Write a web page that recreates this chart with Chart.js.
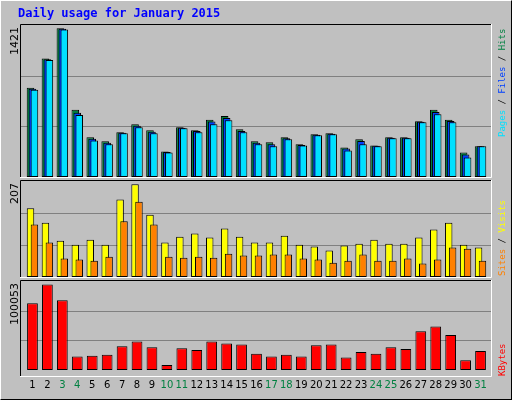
<!DOCTYPE html>
<html><head><meta charset="utf-8">
<script src="https://cdn.jsdelivr.net/npm/chart.js@4"></script>
<style>
html,body{margin:0;padding:0;background:#c0c0c0;}
canvas{position:absolute;left:0;top:0;}
</style></head><body>
<div style="position:absolute;left:0;top:0;width:510px;height:398px;background:#c0c0c0;border-top:1px solid #fff;border-left:1px solid #fff;border-right:1px solid #000;border-bottom:1px solid #000;"></div>
<canvas id="c1" width="512" height="400"></canvas>
<canvas id="c2" width="512" height="400"></canvas>
<canvas id="c3" width="512" height="400"></canvas>
<script>
const days = ['1','2','3','4','5','6','7','8','9','10','11','12','13','14','15','16','17','18','19','20','21','22','23','24','25','26','27','28','29','30','31'];
const weekend = ['3','4','10','11','17','18','24','25','31'];
const hits  = [852,1132,1421,643,379,341,428,505,447,244,476,447,547,582,457,341,331,379,312,408,418,283,360,302,379,379,534,643,547,235,293];
const files = [843,1126,1416,614,365,327,423,490,432,240,471,440,530,565,440,327,312,370,307,404,413,272,345,298,375,375,529,622,536,215,293];
const pages = [833,1119,1411,592,350,312,418,476,418,235,466,428,505,543,428,312,293,360,302,399,408,254,312,293,370,370,524,601,524,186,293];
const visits = [153,121,81,72,83,72,173,207,139,77,90,97,88,108,90,77,77,92,72,68,59,70,74,83,74,74,88,106,121,72,66];
const sites  = [117,77,41,39,36,45,124,168,117,45,43,45,43,52,48,48,50,50,41,39,32,36,50,36,36,41,30,39,66,63,36];
const kbytes = [78150,100053,81440,15700,16800,17900,27760,33230,26660,5840,25560,23370,33230,31040,29950,18990,15700,17900,15700,28850,29950,14610,21180,18990,26660,24470,45290,50760,40900,11320,22280];
const maxLabels = ['1421','207','100053'];

Chart.defaults.font.family = 'DejaVu Sans';
Chart.defaults.animation = false;
Chart.defaults.devicePixelRatio = 1;

const FL = 20, FR = 491;
function panelPlugin(frameTop, frameBottom, legendEnd, leftText, rightParts, title){
  return {
    id:'panel',
    beforeDraw(chart){
      const ctx = chart.ctx, y = chart.scales.y;
      ctx.save();
      if (title){
        ctx.fillStyle='#0000ff';ctx.font='bold 12px "DejaVu Sans Mono"';ctx.textBaseline='alphabetic';
        ctx.fillText(title,18,17);
      }
      ctx.strokeStyle='#808080';ctx.lineWidth=1;
      for (const f of [1/3,2/3]){
        const py = Math.round(y.getPixelForValue(y.max*f))+0.5;
        ctx.beginPath();ctx.moveTo(FL,py);ctx.lineTo(FR,py);ctx.stroke();
      }
      ctx.restore();
    },
    beforeDatasetsDraw(chart){
      for (let i=0;i<chart.data.datasets.length;i++){
        chart.getDatasetMeta(i).controller.draw();
      }
      return false;
    },
    afterDraw(chart){
      const ctx = chart.ctx;
      ctx.save();
      ctx.lineWidth=1;
      ctx.strokeStyle='#000';
      ctx.beginPath();ctx.moveTo(FL+0.5,frameBottom);ctx.lineTo(FL+0.5,frameTop+0.5);ctx.lineTo(FR,frameTop+0.5);ctx.stroke();
      ctx.strokeStyle='#fff';
      ctx.beginPath();ctx.moveTo(FR+0.5,frameTop);ctx.lineTo(FR+0.5,frameBottom+0.5);ctx.lineTo(FL,frameBottom+0.5);ctx.stroke();
      ctx.translate(18,frameTop+3);ctx.rotate(-Math.PI/2);
      ctx.fillStyle='#000';ctx.font='11px "DejaVu Sans"';ctx.textAlign='right';ctx.textBaseline='alphabetic';
      ctx.fillText(leftText,0,0);
      ctx.restore();
      ctx.save();
      ctx.translate(505,legendEnd);ctx.rotate(-Math.PI/2);
      ctx.font='9px "DejaVu Sans Mono"';ctx.textAlign='left';ctx.textBaseline='alphabetic';
      let x=0;
      for (const [t,c] of rightParts){ctx.fillStyle=c;ctx.fillText(t,x,0);x+=ctx.measureText(t).width;}
      ctx.restore();
    }
  };
}
function bar(label,data,color){return {label,data,backgroundColor:color,borderColor:'#000',borderWidth:1,borderSkipped:false};}
function make(id, datasets, max, pad, cp, bp, plugin, showX){
  return new Chart(document.getElementById(id),{
    type:'bar',
    data:{labels:days,datasets},
    options:{responsive:false,maintainAspectRatio:false,
      layout:{padding:pad},
      datasets:{bar:{categoryPercentage:cp,barPercentage:bp}},
      plugins:{legend:{display:false},tooltip:{enabled:false}},
      scales:{
        x:{display:showX,grid:{display:false,drawTicks:false},border:{display:false},
           ticks:{padding:9,autoSkip:false,maxRotation:0,font:{size:10},
             color:(c)=>weekend.includes(days[c.index])?'#008040':'#000'}},
        y:{display:false,min:0,max:max}
      }},
    plugins:[plugin]
  });
}
make('c1',[bar('Hits',hits,'#008040'),bar('Files',files,'#0040ff'),bar('Pages',pages,'#00e0ff')],1453,
  {top:25,bottom:400-177,left:25,right:512-488},0.395,3.85,
  panelPlugin(24,177,137,maxLabels[0],[['Pages','#00e0ff'],[' / ','#000'],['Files','#0040ff'],[' / ','#000'],['Hits','#008040']],'Daily usage for January 2015'),false);
make('c2',[bar('Visits',visits,'#ffff00'),bar('Sites',sites,'#ff8000')],214,
  {top:181,bottom:400-277,left:25,right:512-488},0.526,1.9,
  panelPlugin(180,277,276,maxLabels[1],[['Sites','#ff8000'],[' / ','#000'],['Visits','#ffff00']]),false);
make('c3',[bar('KBytes',kbytes,'#ff0000')],104100,
  {top:281,bottom:0,left:25,right:512-488},1,0.72,
  panelPlugin(280,376,376,maxLabels[2],[['KBytes','#ff0000']]),true);
</script>
</body></html>
